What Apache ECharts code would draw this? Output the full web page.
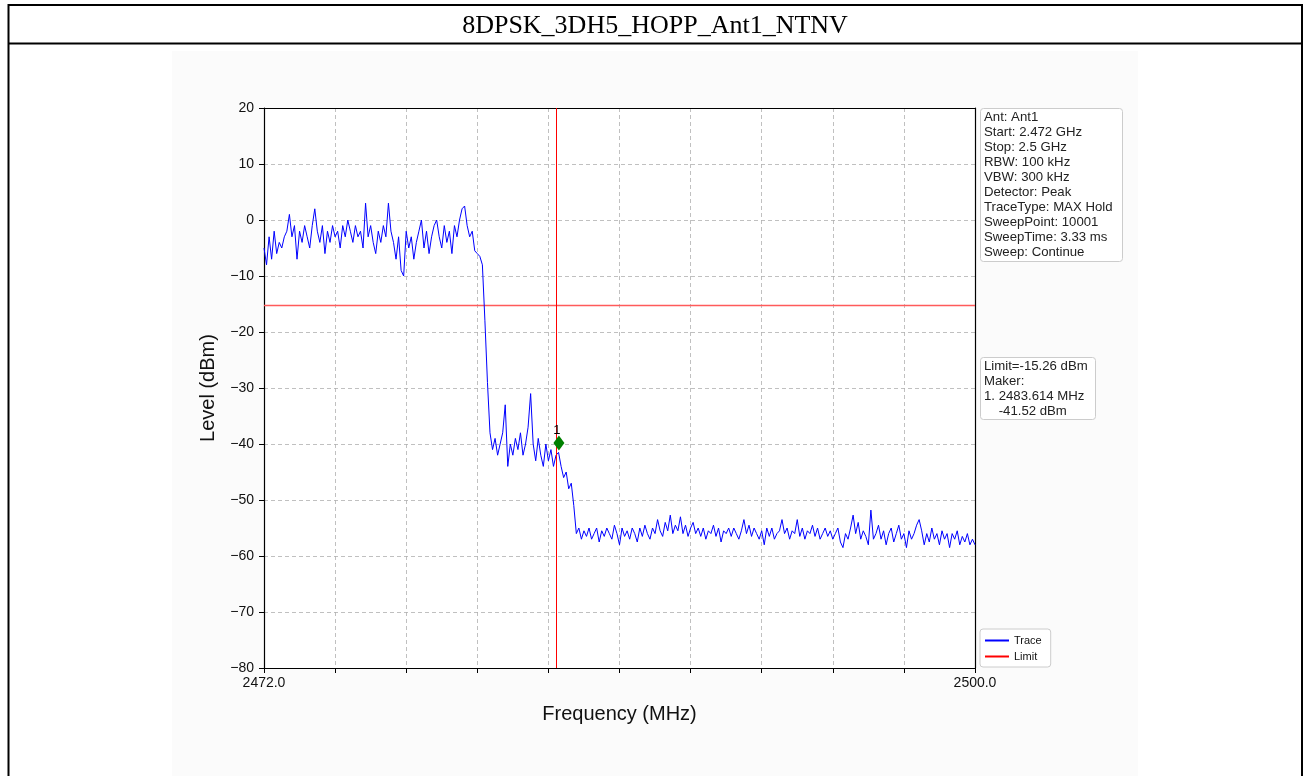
<!DOCTYPE html>
<html><head><meta charset="utf-8">
<script src="https://cdn.jsdelivr.net/npm/echarts@6/dist/echarts.min.js"></script>
<style>html,body{margin:0;padding:0;background:#fff}#c{width:1310px;height:776px}</style>
</head><body><div id="c"></div><script>
const TITLE = '8DPSK_3DH5_HOPP_Ant1_NTNV';
const FREQ_START = 2472.0, FREQ_STOP = 2500.0, FREQ_STEP = 0.1;
const X_TICK_STEP = 2.8;
const xTickLabels = ['2472.0', '2500.0'];
const yTickValues = [20, 10, 0, -10, -20, -30, -40, -50, -60, -70, -80];
// Trace levels (dBm), one per 0.1 MHz from 2472.0 to 2500.0
const levelsInBand = [
  -5, -8, -3, -7, -2, -6, -4, -5, -3, -2,
  1, -3, -1, -7, -2, -4, -1, -3, -5, -1,
  2, -2, -4, -1, -6, -2, -4, -1, -3, -2,
  -5, -1, -3, 0, -2, -4, -1, -3, -2, -5,
  3, -3, -1, -4, -6, -2, -4, -1, -3, 3,
  -2, -4, -7, -3, -9, -10, -2, -5, -3, -7,
  -4, -2, 0, -5, -2, -6, -3, -1, 0, -3,
  -5, -1, -4, -2, -6, -1, -3, 0, 2, 2.5,
  -1, -3, -2, -5.5, -6, -6.5, -8, -18, -29, -38
];
const levelsNearEdge = [
  -41, -39, -42, -40, -38, -33, -44, -40, -42, -39,
  -41, -38, -42, -40, -37, -31, -40, -43, -39, -42,
  -44, -40, -43, -41, -44, -42
];
const levelsSlope = [-41.5, -44, -46, -45, -48, -47, -51, -56];
const levelsFloor = [
  -55, -57, -55.5, -56.5, -55, -57, -56, -55, -57.5, -55.5,
  -56.5, -55, -56, -57, -54.5, -56, -58, -55, -56.5, -55.5,
  -57, -55, -56, -57.5, -55, -56.5, -54.5, -56, -57, -55,
  -56, -53.5, -55.5, -56.5, -54, -55.5, -52.7, -56, -54.5, -55.5,
  -53, -56, -54.5, -56.5, -55, -54, -56, -55, -56.5, -55,
  -57, -55.5, -56, -54.5, -56.5, -55, -57.5, -55.5, -56, -55,
  -56.5, -55, -56, -57, -55.5, -53.5, -56, -54.5, -56.5, -55,
  -56, -57, -55.5, -58, -55, -56.5, -55, -57, -56, -55.5,
  -53.5, -56, -55, -57, -55.5, -56, -53.5, -56.5, -55, -57,
  -55.5, -56, -54.5, -56.5, -55, -57, -56, -55, -56.5, -55.5,
  -57, -56, -55, -57.5, -58.5, -56, -57, -55, -52.7, -56,
  -54, -57, -55.5, -56.5, -58, -51.8, -57, -56, -54.5, -57,
  -55.5, -58, -56, -55, -57.5, -56, -54.5, -57, -56, -58.5,
  -55.5, -57, -56, -54.5, -53.5, -55.5, -58, -56, -57.5, -55,
  -57, -56, -58, -55.5, -57, -56, -58.5, -56, -57, -55.5,
  -58, -56.5, -57.5, -56, -58, -57, -58
];
const limitLevel = -15.26;
const bandEdgeFreq = 2483.5;
const markerPoint = [2483.614, -39.8];
const markerName = '1';
const infoLines = [
  'Ant: Ant1', 'Start: 2.472 GHz', 'Stop: 2.5 GHz', 'RBW: 100 kHz', 'VBW: 300 kHz',
  'Detector: Peak', 'TraceType: MAX Hold', 'SweepPoint: 10001', 'SweepTime: 3.33 ms', 'Sweep: Continue'
];
const limitInfoLines = ['Limit=-15.26 dBm', 'Maker:', '1. 2483.614 MHz', '    -41.52 dBm'];

const levels = levelsInBand.concat(levelsNearEdge, levelsSlope, levelsFloor);
// x positions are offsets from the start frequency so that ticks start at the axis min
const traceData = levels.map((v, i) => [Math.round(i * FREQ_STEP * 10) / 10, v]);
const span = FREQ_STOP - FREQ_START;
const minus = s => String(s).replace('-', '\u2212');

const chart = echarts.init(document.getElementById('c'), null, {renderer: 'canvas'});
const FONT = "'Liberation Sans', Arial, sans-serif";
const spineOnly = {
  axisLine: {show: true, onZero: false, lineStyle: {color: '#000', width: 1.2}},
  axisTick: {show: false}, axisLabel: {show: false}, splitLine: {show: false}
};
const option = {
  animation: false,
  backgroundColor: '#fff',
  grid: {left: 264, top: 108, width: 711, height: 560, show: true, borderWidth: 0, backgroundColor: '#fff'},
  xAxis: [{
    type: 'value', min: 0, max: span, interval: X_TICK_STEP,
    name: 'Frequency (MHz)', nameLocation: 'middle', nameGap: 36,
    nameTextStyle: {fontFamily: FONT, fontSize: 20, color: '#111'},
    axisLine: {show: true, onZero: false, lineStyle: {color: '#000', width: 1.2}},
    axisTick: {show: true, length: 5, lineStyle: {color: '#000', width: 1}},
    axisLabel: {margin: 8, fontFamily: FONT, fontSize: 14, color: '#111',
      formatter: v => Math.abs(v) < 1e-6 ? xTickLabels[0] : (Math.abs(v - span) < 1e-6 ? xTickLabels[1] : '')},
    splitLine: {show: true, lineStyle: {color: '#b0b0b0', type: [4, 3], width: 0.8}}
  }, Object.assign({type: 'value', position: 'top', min: 0, max: span}, spineOnly)],
  yAxis: [{
    type: 'value', min: yTickValues[yTickValues.length - 1], max: yTickValues[0], interval: 10,
    name: 'Level (dBm)', nameLocation: 'middle', nameGap: 46, nameRotate: 90,
    nameTextStyle: {fontFamily: FONT, fontSize: 20, color: '#111'},
    axisLine: {show: true, onZero: false, lineStyle: {color: '#000', width: 1.2}},
    axisTick: {show: true, length: 5, lineStyle: {color: '#000', width: 1}},
    axisLabel: {margin: 10, fontFamily: FONT, fontSize: 14, color: '#111', formatter: v => minus(v)},
    splitLine: {show: true, lineStyle: {color: '#b0b0b0', type: [4, 3], width: 0.8}}
  }, Object.assign({type: 'value', position: 'right', min: -80, max: 20}, spineOnly)],
  legend: {
    orient: 'vertical', left: 980, top: 629, padding: [6, 9, 5, 5], itemGap: 5,
    itemWidth: 24, itemHeight: 2, icon: 'rect',
    backgroundColor: '#fff', borderColor: '#ccc', borderWidth: 1, borderRadius: 3,
    textStyle: {fontFamily: FONT, fontSize: 11, color: '#111'},
    data: ['Trace', 'Limit']
  },
  series: [
    {name: 'Trace', type: 'line', data: traceData, showSymbol: false, symbol: 'none',
      lineStyle: {color: '#0000ff', width: 1}, itemStyle: {color: '#0000ff'}, z: 3},
    {name: 'Limit', type: 'line', data: [[0, limitLevel], [span, limitLevel]], showSymbol: false, symbol: 'none',
      lineStyle: {color: '#ff5a5a', width: 1.6}, itemStyle: {color: '#ff0000'}, z: 2,
      markLine: {silent: true, symbol: 'none', label: {show: false},
        lineStyle: {color: '#ff0000', width: 1, type: 'solid'},
        data: [{xAxis: bandEdgeFreq - FREQ_START}]}},
    {name: 'Marker', type: 'scatter', data: [[markerPoint[0] - FREQ_START, markerPoint[1]]],
      symbol: 'diamond', symbolSize: [11, 15], itemStyle: {color: '#008000', opacity: 1}, z: 5,
      label: {show: true, formatter: markerName, position: 'top', distance: 0, offset: [-2, 2],
        fontFamily: FONT, fontSize: 13, color: '#000'}}
  ],
  graphic: [
    {type: 'rect', z: -10, shape: {x: 172, y: 51, width: 966, height: 730}, style: {fill: '#fbfbfb'}},
    {type: 'line', shape: {x1: 8, y1: 5, x2: 1303, y2: 5}, style: {stroke: '#000', lineWidth: 2}},
    {type: 'line', shape: {x1: 8, y1: 43.5, x2: 1303, y2: 43.5}, style: {stroke: '#000', lineWidth: 2}},
    {type: 'line', shape: {x1: 8.5, y1: 4, x2: 8.5, y2: 776}, style: {stroke: '#000', lineWidth: 2}},
    {type: 'line', shape: {x1: 1302, y1: 4, x2: 1302, y2: 776}, style: {stroke: '#000', lineWidth: 2}},
    {type: 'text', x: 655, y: 26, style: {text: TITLE, font: "26px 'Liberation Serif', 'Times New Roman', serif", fill: '#000', align: 'center', verticalAlign: 'middle'}},
    {type: 'rect', shape: {x: 980.5, y: 108.5, width: 142, height: 153, r: 3}, style: {fill: '#fff', stroke: '#cccccc', lineWidth: 1}},
    {type: 'text', x: 984, y: 110, style: {text: infoLines.join('\n'), font: '13.2px ' + FONT, lineHeight: 15, fill: '#222'}},
    {type: 'rect', shape: {x: 980.5, y: 357.5, width: 115, height: 62, r: 3}, style: {fill: '#fff', stroke: '#cccccc', lineWidth: 1}},
    {type: 'text', x: 984, y: 359, style: {text: limitInfoLines.join('\n'), font: '13.2px ' + FONT, lineHeight: 15, fill: '#222'}}
  ]
};
chart.setOption(option);
</script></body></html>
